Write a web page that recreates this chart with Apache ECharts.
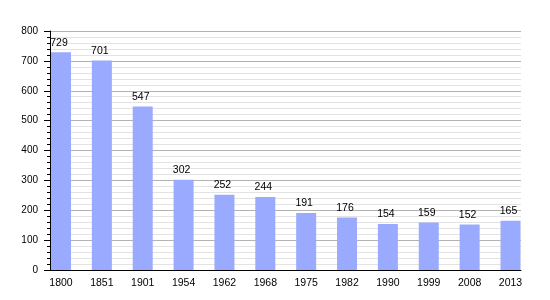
<!DOCTYPE html>
<html>
<head>
<meta charset="utf-8">
<script src="https://cdn.jsdelivr.net/npm/echarts@6/dist/echarts.min.js"></script>
<style>html,body{margin:0;padding:0;background:#fff}#c{width:550px;height:300px}</style>
</head>
<body>
<div id="c"></div>
<script>
const years = ['1800','1851','1901','1954','1962','1968','1975','1982','1990','1999','2008','2013'];
const population = [729, 701, 547, 302, 252, 244, 191, 176, 154, 159, 152, 165];
const yTicks = [0, 100, 200, 300, 400, 500, 600, 700, 800];

const chart = echarts.init(document.getElementById('c'), null, {renderer: 'canvas'});
const font = 'Liberation Sans, Arial, sans-serif';
chart.setOption({
  animation: false,
  backgroundColor: '#fff',
  grid: {left: 50, right: 29, top: 31, bottom: 30, containLabel: false},
  xAxis: {
    type: 'value',
    min: -0.269,
    max: 11.257,
    axisLine: {show: true, onZero: false, lineStyle: {color: '#000', width: 1}},
    axisTick: {show: false},
    splitLine: {show: false},
    axisLabel: {
      customValues: years.map((y, i) => i),
      formatter: v => years[Math.round(v)],
      color: '#000', fontSize: 10.5, fontFamily: font, margin: 8
    }
  },
  yAxis: {
    type: 'value',
    min: yTicks[0],
    max: yTicks[yTicks.length - 1],
    interval: 100,
    axisLine: {show: true, onZero: false, lineStyle: {color: '#000', width: 1}},
    axisTick: {show: true, length: 6, lineStyle: {color: '#000'}},
    minorTick: {show: true, splitNumber: 5, length: 3, lineStyle: {color: '#000'}},
    splitLine: {show: true, lineStyle: {color: '#b3b3b3', width: 1}},
    minorSplitLine: {show: true, lineStyle: {color: '#e3e3e3', width: 1}},
    axisLabel: {color: '#000', fontSize: 10, fontFamily: font, margin: 12}
  },
  series: [{
    type: 'bar',
    data: population.map((v, i) => [i, v]),
    barWidth: 20,
    itemStyle: {color: '#99aaff'},
    label: {
      show: true, position: 'top', distance: 4, offset: [-2, 0],
      color: '#000', fontSize: 10.5, fontFamily: font
    }
  }]
});
</script>
</body>
</html>
